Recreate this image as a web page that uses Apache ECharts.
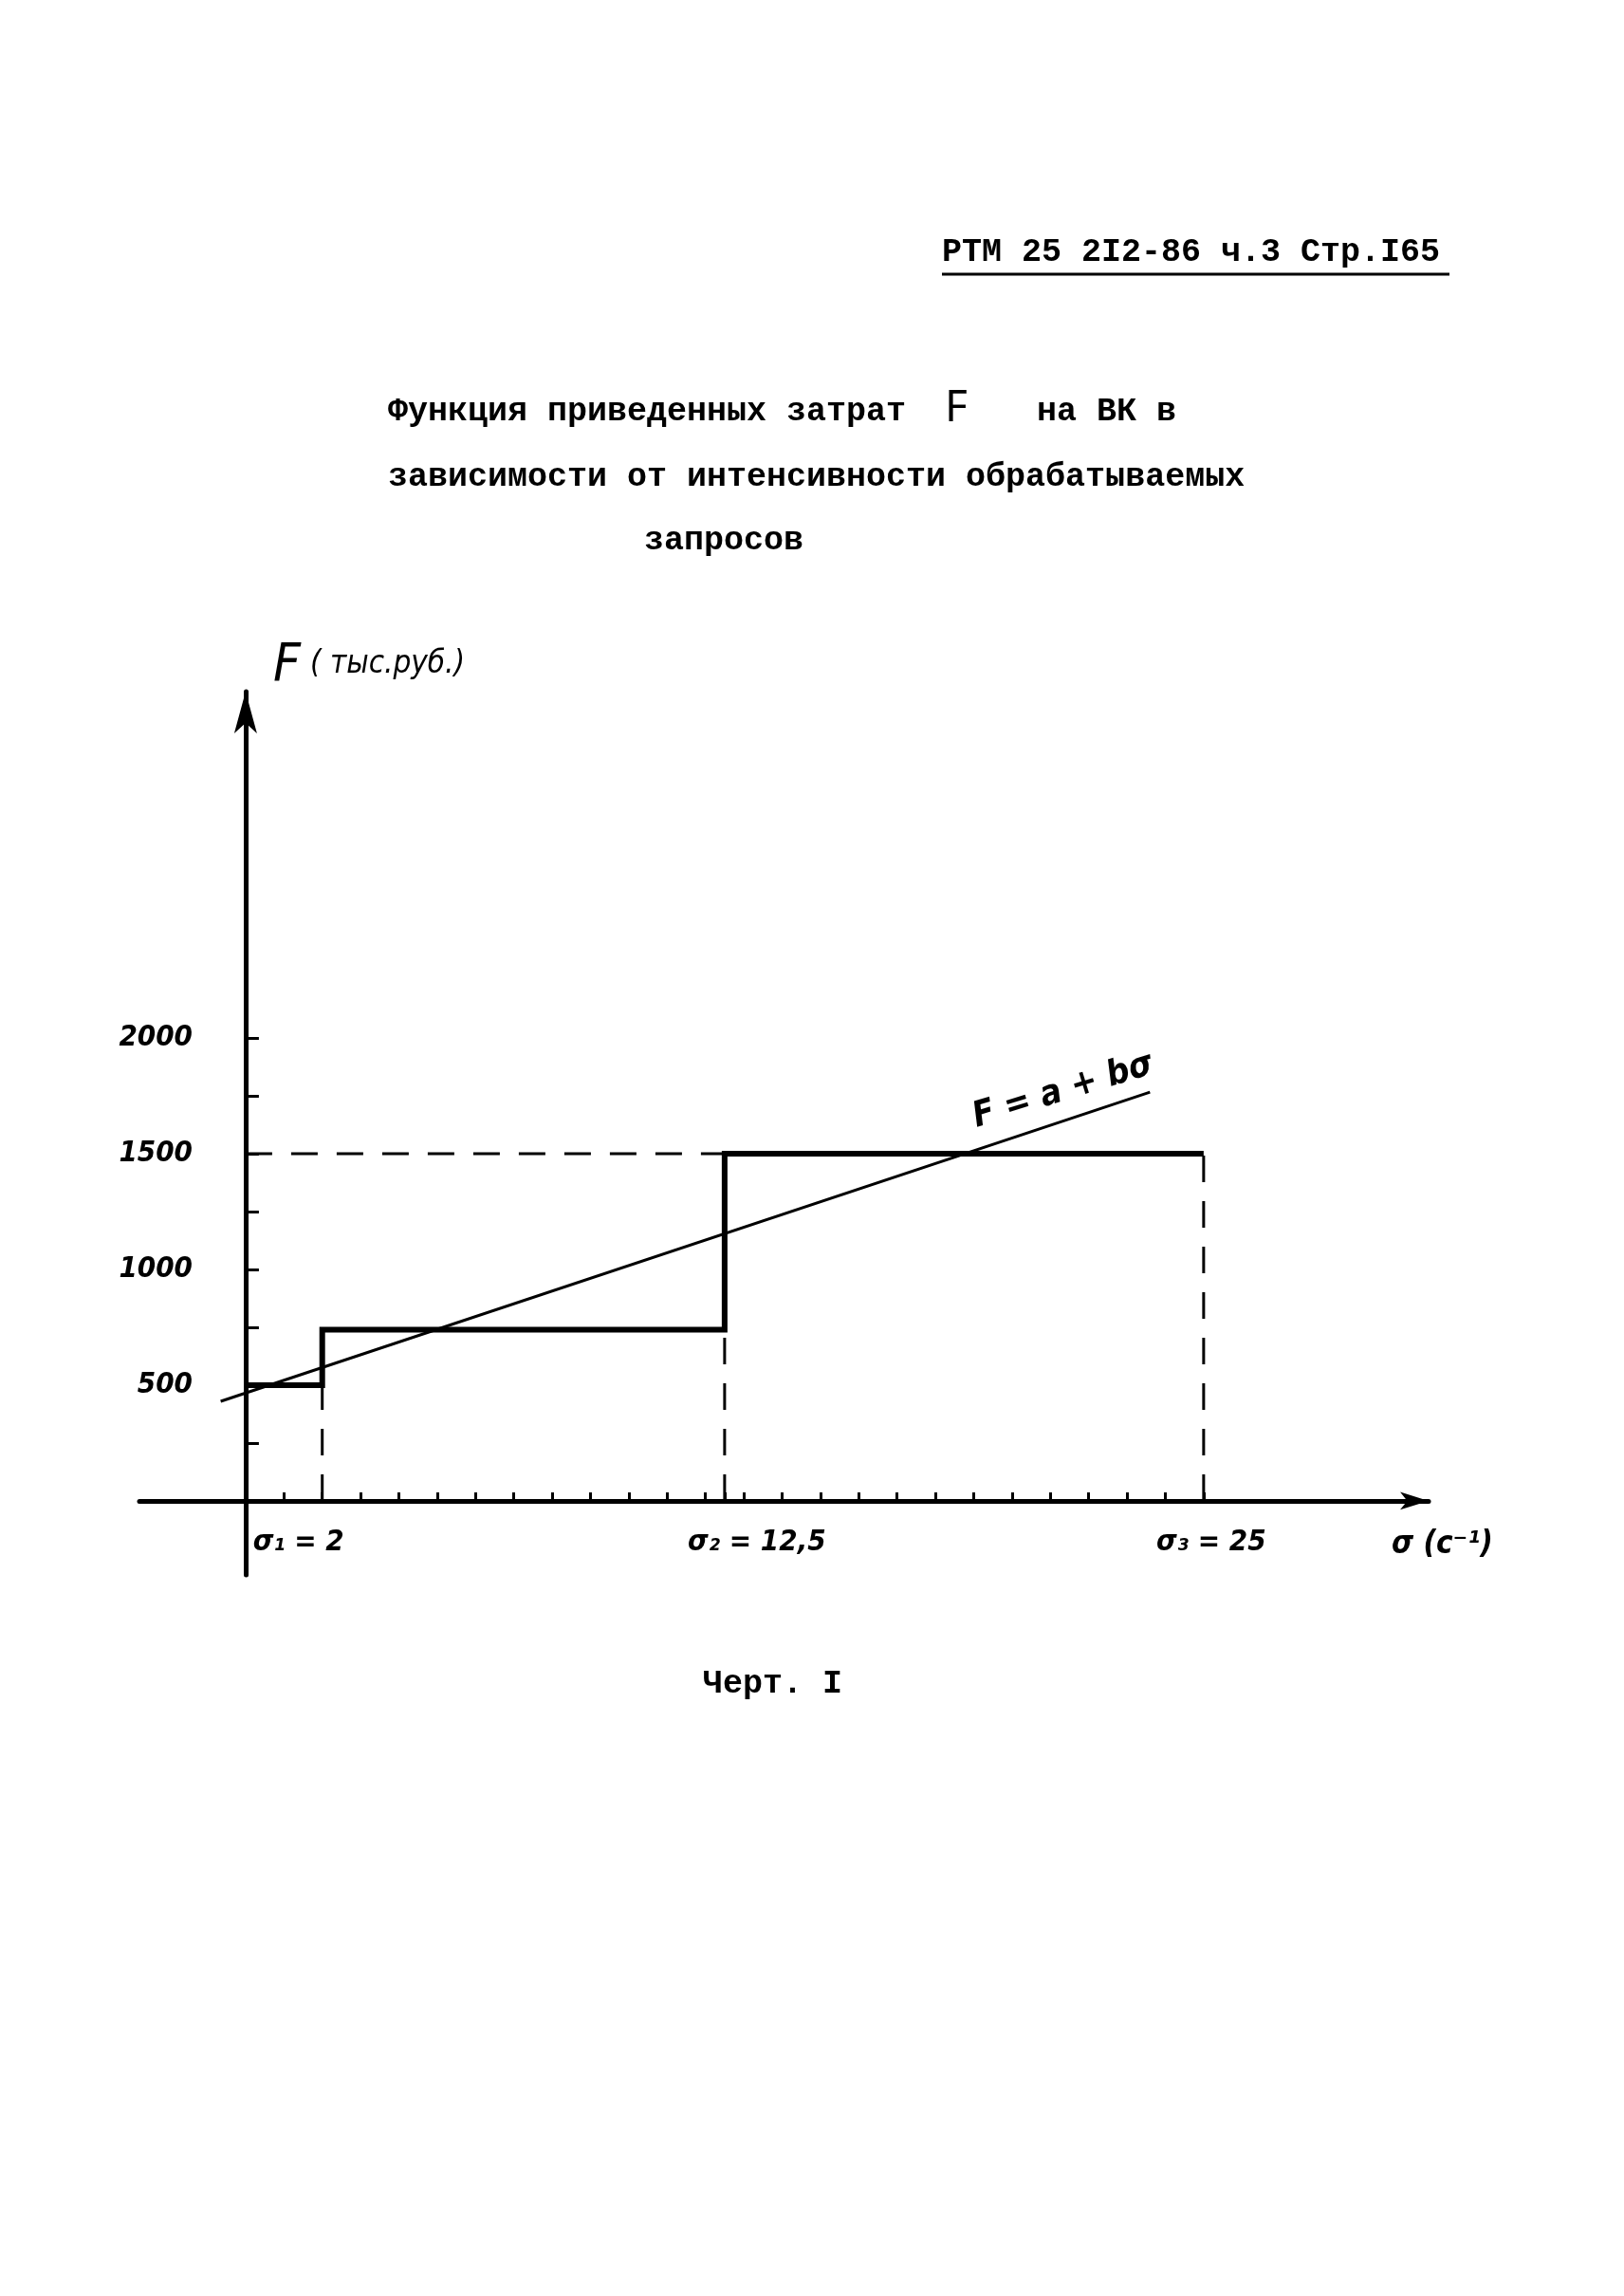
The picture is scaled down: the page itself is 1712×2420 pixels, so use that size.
<!DOCTYPE html>
<html><head><meta charset="utf-8">
<script src="https://cdn.jsdelivr.net/npm/echarts@6/dist/echarts.min.js"></script>
<style>html,body{margin:0;padding:0;background:#fff}#c{width:1712px;height:2420px}</style>
</head><body><div id="c"></div>
<script>
// ---- texts ----
const headerText = 'РТМ 25 2I2-86 ч.3 Стр.I65';
const titleLine1a = 'Функция приведенных затрат';
const titleLine1F = 'F';
const titleLine1b = 'на ВК в';
const titleLine2 = 'зависимости от интенсивности обрабатываемых';
const titleLine3 = 'запросов';
const captionText = 'Черт. I';
const yAxisNameF = 'F';
const yAxisNameUnit = '( тыс.руб.)';
const xAxisNameText = 'σ (с⁻¹)';
const formulaText = 'F = a + bσ';

// ---- data ----
const stepX = [0, 2, 12.5, 25];          // σ boundaries
const stepY = [500, 740, 1500];          // F levels on each interval
const regX = [-0.65, 23.6];              // straight line F = a + bσ, drawn ends
const regY = [430, 1766];
const xTicks = [1, 2, 3, 4, 5, 6, 7, 8, 9, 10, 11, 12, 12.5, 13, 14, 15, 16, 17, 18, 19, 20, 21, 22, 23, 24, 25];
const xLabelValues = [2, 12.5, 25];
const xLabelTexts = ['σ₁ = 2', 'σ₂ = 12,5', 'σ₃ = 25'];
const yTicks = [250, 500, 750, 1000, 1250, 1500, 1750, 2000];
const yLabelValues = [500, 1000, 1500, 2000];
const yLabelTexts = ['500', '1000', '1500', '2000'];

// ---- build series data ----
const stepData = [];
for (let i = 0; i < stepY.length; i++) {
  stepData.push([stepX[i], stepY[i]]);
  stepData.push([stepX[i + 1], stepY[i]]);
}
const dashedSeries = [];
dashedSeries.push([[0, stepY[2]], [stepX[2], stepY[2]]]);
for (let i = 1; i < stepX.length; i++) {
  dashedSeries.push([[stepX[i], 0], [stepX[i], stepY[i - 1]]]);
}
const regData = [[regX[0], regY[0]], [regX[1], regY[1]]];

const HAND = "'Liberation Sans Narrow', 'DejaVu Sans Condensed', 'DejaVu Sans', sans-serif";
const MONO = "'Liberation Mono', 'DejaVu Sans Mono', monospace";
const INK = '#000';

const chart = echarts.init(document.getElementById('c'), null, {renderer: 'canvas'});

const series = [];
dashedSeries.forEach(d => series.push({
  type: 'line', data: d, symbol: 'none', silent: true,
  lineStyle: {color: INK, width: 3, type: [28, 20]}, z: 2
}));
series.push({
  type: 'line', data: stepData, symbol: 'none',
  lineStyle: {color: INK, width: 6, join: 'miter'}, z: 3
});
series.push({
  type: 'line', data: regData, symbol: 'none',
  lineStyle: {color: INK, width: 3}, z: 4
});

const labStyle = (pad) => ({fontFamily: HAND, fontStyle: 'italic', fontWeight: 'bold', fontSize: 31, color: INK, padding: pad});

const option = {
  animation: false,
  backgroundColor: '#fff',
  grid: {left: 147, right: 206, top: 729, bottom: 760, containLabel: false},
  xAxis: {
    type: 'value', min: -2.77, max: 30.87,
    splitLine: {show: false},
    axisLine: {show: true, onZero: true, lineStyle: {color: INK, width: 5},
      symbol: ['none', 'arrow'], symbolSize: [14, 30]},
    axisTick: {show: true, inside: true, length: 9, customValues: xTicks,
      lineStyle: {color: INK, width: 3}},
    axisLabel: {
      show: true, customValues: xLabelValues, margin: -50, verticalAlign: 'top',
      formatter: v => {
        const i = xLabelValues.indexOf(v);
        return i < 0 ? '' : '{l' + i + '|' + xLabelTexts[i] + '}';
      },
      rich: {
        l0: labStyle([0, 50, 0, 0]),
        l1: labStyle([0, 0, 0, 68]),
        l2: labStyle([0, 0, 0, 16])
      }
    },
    name: xAxisNameText, nameLocation: 'end', nameGap: -39,
    nameTextStyle: {fontFamily: HAND, fontStyle: 'italic', fontWeight: 'bold', fontSize: 33, color: INK,
      align: 'left', verticalAlign: 'top', padding: [30, 0, 0, 0]}
  },
  yAxis: {
    type: 'value', min: -320, max: 3496,
    splitLine: {show: false},
    axisLine: {show: true, onZero: true, lineStyle: {color: INK, width: 5},
      symbol: ['none', 'arrow'], symbolSize: [18, 44]},
    axisTick: {show: true, inside: true, length: 14, customValues: yTicks,
      lineStyle: {color: INK, width: 3}},
    axisLabel: {
      show: true, customValues: yLabelValues, margin: -56,
      formatter: v => { const i = yLabelValues.indexOf(v); return i < 0 ? '' : yLabelTexts[i]; },
      fontFamily: HAND, fontStyle: 'italic', fontWeight: 'bold', fontSize: 31, color: INK,
      verticalAlign: 'middle', padding: [0, 0, 16, 0]
    },
    name: '{f|' + yAxisNameF + '}{u|' + yAxisNameUnit + '}', nameLocation: 'end', nameGap: -1,
    nameTextStyle: {
      align: 'left', verticalAlign: 'bottom', padding: [0, 0, 0, 29],
      rich: {
        f: {fontFamily: HAND, fontStyle: 'italic', fontSize: 56, color: INK},
        u: {fontFamily: HAND, fontStyle: 'italic', fontSize: 33, color: INK, padding: [0, 0, 4, 10]}
      }
    }
  },
  series: series,
  graphic: [
    {type: 'text', x: 993, y: 266, style: {text: headerText, font: 'bold 35px ' + MONO, fill: INK, align: 'left', verticalAlign: 'middle'}},
    {type: 'line', shape: {x1: 993, y1: 289, x2: 1528, y2: 289}, style: {stroke: INK, lineWidth: 3}},
    {type: 'text', x: 409, y: 434, style: {text: titleLine1a, font: 'bold 35px ' + MONO, fill: INK, align: 'left', verticalAlign: 'middle'}},
    {type: 'text', x: 996, y: 431, style: {text: titleLine1F, font: '46px "Noto Sans", sans-serif', fill: INK, align: 'left', verticalAlign: 'middle'}},
    {type: 'text', x: 1093, y: 434, style: {text: titleLine1b, font: 'bold 35px ' + MONO, fill: INK, align: 'left', verticalAlign: 'middle'}},
    {type: 'text', x: 409, y: 503, style: {text: titleLine2, font: 'bold 35px ' + MONO, fill: INK, align: 'left', verticalAlign: 'middle'}},
    {type: 'text', x: 679, y: 570, style: {text: titleLine3, font: 'bold 35px ' + MONO, fill: INK, align: 'left', verticalAlign: 'middle'}},
    {type: 'text', x: 741, y: 1775, style: {text: captionText, font: 'bold 35px ' + MONO, fill: INK, align: 'left', verticalAlign: 'middle'}},
    {type: 'text', x: 1121, y: 1150, rotation: 17 * Math.PI / 180,
      style: {text: formulaText, font: 'italic bold 37px ' + HAND, fill: INK, align: 'center', verticalAlign: 'middle'}}
  ]
};
chart.setOption(option);
</script>
</body></html>
